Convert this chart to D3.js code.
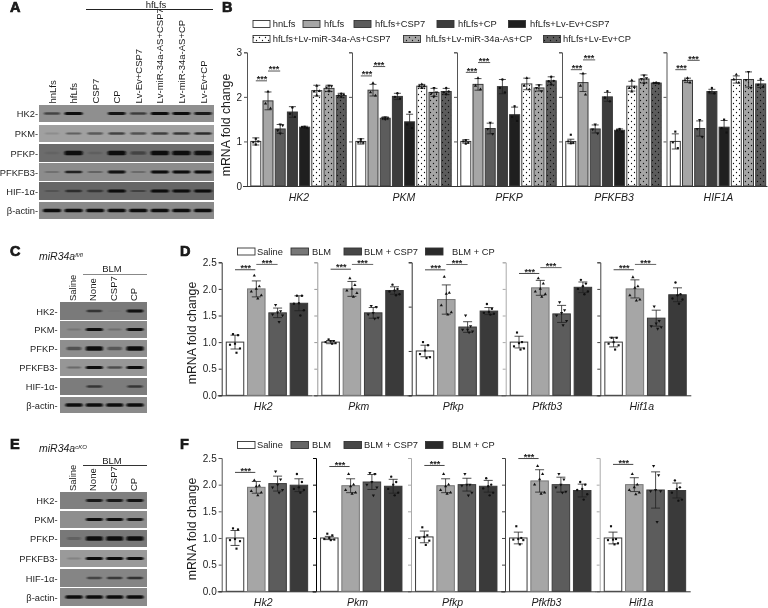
<!DOCTYPE html>
<html><head><meta charset="utf-8">
<script src="https://cdn.jsdelivr.net/npm/d3@7"></script>
<style>html,body{margin:0;padding:0;background:#fff}svg{display:block;filter:blur(0.3px)}text{font-family:"Liberation Sans",Arial,sans-serif;fill:#1c1c1c}</style>
</head><body><div id="c"></div>
<script>
// ---------- DATA ----------
const genesB = ["HK2","PKM","PFKP","PFKFB3","HIF1A"];
const seriesB = ["hnLfs","hfLfs","hfLfs+CSP7","hfLfs+CP","hfLfs+Lv-Ev+CSP7","hfLfs+Lv-miR-34a-As+CSP7","hfLfs+Lv-miR-34a-As+CP","hfLfs+Lv-Ev+CP"];
const meansB = [
 [1.0,1.91,1.28,1.66,1.32,2.14,2.19,2.03],
 [1.0,2.15,1.52,2.01,1.44,2.24,2.10,2.12],
 [1.0,2.28,1.29,2.23,1.60,2.29,2.20,2.36],
 [1.0,2.32,1.28,2.00,1.25,2.24,2.40,2.31],
 [1.0,2.37,1.29,2.12,1.32,2.39,2.39,2.29]];
const errB = [
 [.08,.20,.10,.12,.02,.12,.07,.05],
 [.06,.13,.03,.07,.17,.04,.09,.07],
 [.04,.13,.12,.16,.17,.13,.07,.09],
 [.05,.20,.09,.10,.03,.11,.09,.01],
 [.17,.05,.17,.05,.15,.08,.17,.08]];
const pointsB = [
 [[1.06,.98,1.0,.93],[2.12,1.85,1.74],[1.38,1.25,1.36,1.18],[1.76,1.62,1.55],[1.33,1.32,1.30,1.31],[2.25,2.12,2.13,2.03],[2.25,2.21,2.24,2.13],[2.07,2.03,2.05,2.0]],
 [[1.05,.98,.97,1.0],[2.31,2.1,2.03],[1.54,1.52,1.52,1.5],[2.08,2.0,1.96],[1.66,1.38,1.3],[2.28,2.24,2.24,2.2],[2.2,2.08,2.1,2.01],[2.2,2.1,2.12,2.06]],
 [[1.03,1.0,.97,.95],[2.42,2.25,2.17],[1.42,1.28,1.17],[2.39,2.2,2.1],[1.79,1.55,1.46],[2.42,2.25,2.17],[2.26,2.2,2.13],[2.45,2.35,2.36,2.28]],
 [[1.15,1.0,.97,.96],[2.52,2.25,2.05],[1.38,1.27,1.18],[2.13,1.98,1.9],[1.28,1.25,1.22,1.26],[2.37,2.2,2.22,2.12],[2.48,2.4,2.42,2.3],[2.32,2.31,2.3,2.31]],
 [[1.22,.98,.85],[2.42,2.37,2.32],[1.48,1.28,1.1],[2.2,2.11,2.08],[1.49,1.3,1.2],[2.5,2.39,2.32],[2.56,2.38,2.2],[2.4,2.27,2.22]]];
const bracketsB = [[2.36,2.58],[2.47,2.68],[2.55,2.77],[2.61,2.83],[2.61,2.82]];

const genesD = ["Hk2","Pkm","Pfkp","Pfkfb3","Hif1a"];
const seriesD = ["Saline","BLM","BLM + CSP7","BLM + CP"];
const yMaxD = [2.5,2.5,3,2.5,2.5];
const meansD = [[1.0,2.0,1.55,1.73],[1.0,2.0,1.55,1.97],[1.0,2.16,1.54,1.90],[1.0,2.02,1.53,2.03],[1.0,2.0,1.45,1.89]];
const errD = [[.13,.15,.09,.14],[.03,.14,.1,.07],[.13,.33,.12,.08],[.11,.14,.16,.1],[.09,.17,.15,.13]];
const pointsD = [
 [[1.15,1.13,.97,.95,.88,.8],[2.25,2.05,2.0,1.95,1.88,1.82],[1.7,1.58,1.56,1.52,1.5,1.38],[1.87,1.87,1.73,1.72,1.6,1.5]],
 [[1.05,1.02,1.02,1.0,.98,.97],[2.2,2.07,2.0,1.97,1.92,1.85],[1.68,1.66,1.55,1.52,1.46,1.44],[2.08,2.0,1.97,1.95,1.9,1.88]],
 [[1.2,1.13,1.01,.93,.86,.84],[2.67,2.31,2.29,2.03,1.87,1.82],[1.8,1.56,1.48,1.48,1.44,1.42],[2.06,1.95,1.88,1.86,1.84,1.82]],
 [[1.18,1.0,.98,.92,.88,.86],[2.2,2.1,2.0,1.95,1.9,1.85],[1.75,1.6,1.55,1.5,1.4,1.32],[2.17,2.1,2.05,2.0,1.95,1.9]],
 [[1.08,1.08,1.0,.97,.94,.86],[2.22,2.05,2.02,1.88,1.8,1.78],[1.67,1.4,1.35,1.3,1.28,1.25],[2.12,1.9,1.88,1.82,1.8,1.72]]];
const bracketsD = [[2.36,2.46],[2.37,2.46],[2.83,2.95],[2.29,2.4],[2.36,2.46]];

const meansF = [[1.0,1.95,2.02,1.99],[1.0,1.98,2.05,1.97],[1.02,1.98,2.0,1.97],[1.0,2.07,2.0,1.89],[1.0,2.0,1.9,1.89]];
const errF = [[.14,.11,.14,.12],[.03,.13,.14,.13],[.11,.13,.12,.11],[.11,.21,.14,.12],[.11,.13,.34,.14]];
const pointsF = [
 [[1.18,1.16,.98,.96,.94,.8],[2.08,1.98,1.97,1.88,1.85,1.8],[2.25,2.1,2.0,1.95,1.9,1.85],[2.2,2.05,1.95,1.92,1.9,1.85]],
 [[1.08,1.05,1.0,.98,.97,.96],[2.2,2.0,1.97,1.9,1.85,1.83],[2.22,2.2,2.05,2.0,1.95,1.8],[2.15,2.05,2.0,1.92,1.85,1.8]],
 [[1.2,1.05,1.02,1.0,.95,.87],[2.2,2.0,1.97,1.9,1.85,1.83],[2.2,2.0,2.0,1.98,1.85,1.8],[2.12,2.0,1.97,1.93,1.85,1.8]],
 [[1.22,1.0,.98,.97,.96,.88],[2.35,2.2,2.1,2.0,1.85,1.83],[2.2,2.1,2.0,1.95,1.87,1.85],[2.05,2.0,1.92,1.9,1.82,1.72]],
 [[1.22,.98,.97,.96,.9,.88],[2.2,2.0,1.95,1.9,1.85,1.82],[2.35,2.18,1.9,1.88,1.88,1.3],[2.08,1.95,1.92,1.85,1.72,1.7]]];
const bracketsF = [[2.23],[2.34],[2.36],[2.49],[2.38]];

const lanesA = ["hnLfs","hfLfs","CSP7","CP","Lv-Ev+CSP7","Lv-miR-34a-AS+CSP7","Lv-miR-34a-AS+CP","Lv-Ev+CP"];
const lanesC = ["Saline","None","CSP7","CP"];
const proteins = ["HK2-","PKM-","PFKP-","PFKFB3-","HIF-1α-","β-actin-"];
const bandsA = [[.55,1,0,.9,.6,1,.95,.85],[.12,.4,.45,.6,.5,.62,.68,.75],[.08,1,.12,1,.4,1,1,.9],[.2,.8,.3,.9,.25,.95,.95,.95],[.2,.6,.5,1,.4,1,.95,.95],[1,1,1,1,1,1,1,1]];
const bandsC = [[0,.6,.05,.9],[.15,1,.2,.95],[.45,1,.4,1],[.3,1,.5,1],[0,.6,0,.6],[1,1,1,1]];
const bandsE = [[0,.85,.85,.9],[0,.95,.95,.85],[.2,.95,.95,.95],[.15,1,1,1],[0,.5,.6,.65],[1,1,1,1]];

// ---------- STYLE / LAYOUT ----------
const W=768,H=608, FF='"Liberation Sans",Arial,sans-serif';
const svg=d3.select("#c").append("svg").attr("width",W).attr("height",H).attr("viewBox",`0 0 ${W} ${H}`);
const defs=svg.append("defs");
defs.append("filter").attr("id","bl").attr("x","-30%").attr("y","-80%").attr("width","160%").attr("height","260%")
  .append("feGaussianBlur").attr("stdDeviation","0.9 0.7");
[["dw","#ffffff"],["dg","#a6a6a6"],["dd","#5c5c5c"]].forEach(([id,c])=>{
  const p=defs.append("pattern").attr("id",id).attr("patternUnits","userSpaceOnUse").attr("width",6).attr("height",6);
  p.append("rect").attr("width",6).attr("height",6).attr("fill",c);
  [[1.5,1.5],[4.5,4.5]].forEach(([x,y])=>p.append("circle").attr("cx",x).attr("cy",y).attr("r",.65).attr("fill","#111"));
});
const fillB=["#fff","#a6a6a6","#5c5c5c","#3c3c3c","#1f1f1f","url(#dw)","url(#dg)","url(#dd)"];
const fillD=["#fff","#a6a6a6","#5c5c5c","#3a3a3a"];
const symbols=[d3.symbolSquare,d3.symbolTriangle,d3.symbolTriangle,d3.symbolCircle];
const jit3=[0,-2.5,2.5,0], jit6=[-2,3,0,-5,5,1.5];

function panel(o){
  const g=svg.append("g");
  const y=d3.scaleLinear().domain([0,o.yMax]).range([o.y0,o.yT]);
  const x=d3.scaleLinear().domain([0,1]).range([o.axisX+o.offset,o.axisX+o.offset+o.step]);
  const ax=d3.axisLeft(y).tickValues(o.ticks).tickSize(3).tickSizeOuter(3);
  ax.tickFormat(o.first?o.fmt:()=> "");
  const ag=g.append("g").attr("transform",`translate(${o.axisX},0)`).call(ax);
  ag.selectAll("path,line").attr("stroke",o.axisColor).attr("stroke-width",1);
  ag.selectAll("text").attr("font-size",10).attr("font-family",FF).attr("x",-5).attr("fill","#1c1c1c");
  g.append("line").attr("x1",o.axisX-4).attr("x2",o.axisX+o.width).attr("y1",y(0)+.5).attr("y2",y(0)+.5).attr("stroke","#333").attr("stroke-width",1);
  o.means.forEach((m,i)=>{
    const cx=x(i);
    g.append("rect").attr("x",cx-o.barW/2).attr("y",y(m)).attr("width",o.barW).attr("height",y(0)-y(m))
      .attr("fill",o.fills[i]).attr("stroke",i==1&&o.barW>12?"#777":"#3a3a3a").attr("stroke-width",1);
  });
  o.means.forEach((m,i)=>{
    const cx=x(i),e=o.err[i];
    const p=d3.path();
    p.moveTo(cx,y(m+e));p.lineTo(cx,y(m-e));
    p.moveTo(cx-o.capW/2,y(m+e));p.lineTo(cx+o.capW/2,y(m+e));
    p.moveTo(cx-o.capW/2,y(m-e));p.lineTo(cx+o.capW/2,y(m-e));
    g.append("path").attr("d",p.toString()).attr("stroke","#222").attr("stroke-width",.8).attr("fill","none");
    o.pts[i].forEach((v,k)=>{
      const sy=d3.symbol().type(symbols[i%4]).size(4.5)();
      g.append("path").attr("d",sy).attr("fill","#111")
        .attr("transform",`translate(${cx+o.jit[k%o.jit.length]},${y(v)})${i%4==2?" rotate(180)":""}`);
    });
  });
  o.brackets.forEach((b,k)=>{
    const yy=y(b);
    g.append("line").attr("x1",x(k)).attr("x2",x(k)+o.step-(k==0?1:0)).attr("y1",yy).attr("y2",yy)
      .attr("stroke",o.bracketColor[k]).attr("stroke-width",1);
    g.append("text").attr("x",x(k)+o.step/2).attr("y",yy+1.2).attr("text-anchor","middle").attr("font-size",9).attr("font-weight","bold").text("***");
  });
  g.append("text").attr("x",o.axisX+o.geneDx).attr("y",o.geneY).attr("text-anchor","middle")
    .attr("font-size",10.5).attr("font-style","italic").text(o.gene);
}
const axisB=[247,352,457,562,666.5];
genesB.forEach((gene,i)=>panel({axisX:axisB[i],width:101,y0:186,yT:52.3,yMax:3,means:meansB[i],err:errB[i],pts:pointsB[i],
  brackets:bracketsB[i],fills:fillB,first:i==0,fmt:d3.format("d"),barW:10,capW:7,gene,axisColor:"#555",geneY:200.5,geneDx:52,
  step:12.2,offset:8.8,jit:jit3,ticks:[0,1,2,3],bracketColor:["#555","#555"]}));

const axisD=[221.7,317.3,411.7,505.7,600.3];
const axColD=["#333","#999","#333","#aaa","#444"];
genesD.forEach((gene,i)=>panel({axisX:axisD[i],width:91,y0:395.3,yT:262.3,yMax:yMaxD[i],means:meansD[i],err:errD[i],pts:pointsD[i],
  brackets:bracketsD[i],fills:fillD,first:i==0,fmt:d3.format(".1f"),barW:17.5,capW:9,gene,axisColor:axColD[i],geneY:410,geneDx:41.5,
  step:21.3,offset:13.3,jit:jit6,ticks:yMaxD[i]==3?[0,1,2,3]:[0,.5,1,1.5,2,2.5],bracketColor:["#444","#666"]}));

const axisF=[221.7,316,411,505,599.7];
const axColF=["#555","#000","#aaa","#444","#aaa"];
genesD.forEach((gene,i)=>panel({axisX:axisF[i],width:91,y0:591.3,yT:458,yMax:2.5,means:meansF[i],err:errF[i],pts:pointsF[i],
  brackets:bracketsF[i],fills:fillD,first:i==0,fmt:d3.format(".1f"),barW:17.5,capW:9,gene,axisColor:axColF[i],geneY:606,geneDx:41.5,
  step:21.3,offset:13.3,jit:jit6,ticks:[0,.5,1,1.5,2,2.5],bracketColor:["#444"]}));

function yLabel(x,y){svg.append("text").attr("transform",`translate(${x},${y}) rotate(-90)`).attr("text-anchor","middle").attr("font-size",12.3).text("mRNA fold change");}
yLabel(230,125);yLabel(196,333);yLabel(196,529);

function legend(items,swW,swH,fs){
  items.forEach(it=>{
    svg.append("rect").attr("x",it.x).attr("y",it.y-swH/2).attr("width",swW).attr("height",swH).attr("fill",it.fill).attr("stroke","#333").attr("stroke-width",.9);
    svg.append("text").attr("x",it.tx).attr("y",it.y+fs*.36).attr("font-size",fs).text(it.label);
  });
}
const legXB=[[253,272.7,24],[303,324,24],[354,375,24],[437,458,24],[508.5,530,24],[253,272.7,39],[403.5,425.7,39],[543.5,563,39]];
legend(seriesB.map((label,i)=>({label,fill:fillB[i],x:legXB[i][0],tx:legXB[i][1],y:legXB[i][2]})),17,7,9.35);
const legXD=[[237.5,257],[291,312],[344,364],[425.5,452]];
const legFillD=["#fff","#777","#474747","#2a2a2a"];
const legFillF=["#fff","#666","#474747","#2a2a2a"];
legend(seriesD.map((label,i)=>({label,fill:legFillD[i],x:legXD[i][0],tx:legXD[i][1],y:251.5})),17.5,7,9.3);
legend(seriesD.map((label,i)=>({label,fill:legFillF[i],x:legXD[i][0],tx:legXD[i][1],y:445})),17.5,7,9.3);

// ---------- BLOTS ----------
const rowsA=[[105,122],[125,142],[144,162],[163,181],[182,200],[202,219]];
const rowsC=[[302,320],[321,338],[340,357],[359,376],[378,395],[397,413]];
const rowsE=[[492,509],[511,528],[530,547],[550,567],[569,587],[588,606]];
function blot(rows,x0,x1,lanes,laneRange,bands,bgs,bandW,labelX){
  const lx=d3.scalePoint().domain(lanes).range(laneRange);
  rows.forEach((r,i)=>{
    svg.append("rect").attr("x",x0).attr("y",r[0]).attr("width",x1-x0).attr("height",r[1]-r[0]).attr("fill",bgs[i]);
    const bh=i==5?3.6:(i==2?4.5:3);
    lanes.forEach((l,k)=>{
      const v=bands[i][k]; if(!v)return;
      const w=bandW*(.75+.25*v), h=bh*(.55+.45*v);
      svg.append("rect").attr("x",lx(l)-w/2).attr("y",(r[0]+r[1])/2-h/2).attr("width",w).attr("height",h)
        .attr("rx",1.5).attr("fill","#0c0c0c").attr("opacity",Math.min(1,v*1.05)).attr("filter","url(#bl)");
    });
    svg.append("text").attr("x",labelX).attr("y",(r[0]+r[1])/2+3.6).attr("text-anchor","end").attr("font-size",9.3).text(proteins[i]);
  });
  return lx;
}
function laneLabels(lanes,lx,bottom,dx){
  lanes.forEach(l=>svg.append("text").attr("transform",`translate(${lx(l)+dx},${bottom}) rotate(-90)`).attr("font-size",9.5).text(l));
}
const lxA=blot(rowsA,39,214,lanesA,[52,203],bandsA,["#8f8f8f","#a0a0a0","#6c6c6c","#8c8c8c","#666","#8a8a8a"],18,38);
laneLabels(lanesA,lxA,103.5,3.5);
const lxC=blot(rowsC,60,147,lanesC,[74,135],bandsC,["#7a7a7a","#8a8a8a","#8e8e8e","#969696","#7c7c7c","#8a8a8a"],17,57.5);
laneLabels(lanesC,lxC,301,2);
const lxE=blot(rowsE,60,147,lanesC,[74,135],bandsE,["#808080","#8e8e8e","#787878","#9a9a9a","#858585","#8a8a8a"],17,57.5);
laneLabels(lanesC,lxE,491,2);

// header lines
function head(x1,x2,y,c,label,tx,ty){
  svg.append("line").attr("x1",x1).attr("x2",x2).attr("y1",y).attr("y2",y).attr("stroke",c).attr("stroke-width",1);
  svg.append("text").attr("x",tx).attr("y",ty).attr("text-anchor","middle").attr("font-size",9.5).text(label);
}
head(86,213,9.5,"#222","hfLfs",156,8);
head(83,147,274.5,"#888","BLM",112,272);
head(83,147,465.5,"#333","BLM",112,463.5);

function mir(x,y,sup){
  const t=svg.append("text").attr("x",x).attr("y",y).attr("font-size",10.5).attr("font-style","italic").text("miR34a");
  t.append("tspan").attr("font-size",6).attr("dy",-3.5).text(sup);
}
mir(39,260,"fl/fl");mir(39,452,"cKO");

// panel letters
const letters=[["A",10,11.5],["B",222,11.5],["C",10,255.5],["D",180,255.5],["E",10,449],["F",180,449]];
letters.forEach(([t,x,y])=>svg.append("text").attr("x",x).attr("y",y).attr("font-size",14.5).attr("font-weight","bold").attr("stroke","#111").attr("stroke-width",.7).attr("fill","#111").text(t));
</script></body></html>
